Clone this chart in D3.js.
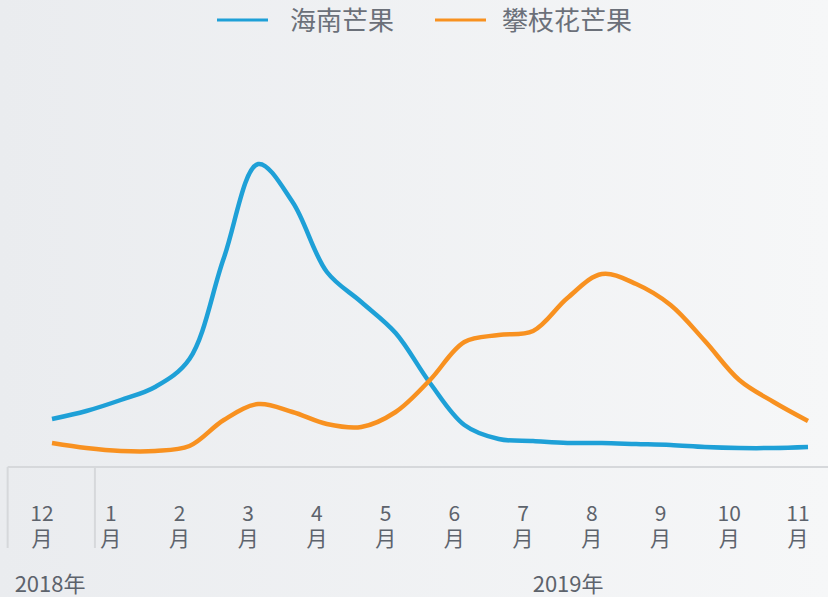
<!DOCTYPE html>
<html>
<head>
<meta charset="utf-8">
<script src="https://cdn.jsdelivr.net/npm/d3@7"></script>
<style>
  html, body { margin: 0; padding: 0; }
  body { width: 828px; height: 597px; overflow: hidden; }
  text { font-family: "Noto Sans CJK SC", "Noto Sans", sans-serif; }
</style>
</head>
<body>
<div id="chart"></div>
<script>
"use strict"

// month labels (one tick per month, Dec 2018 .. Nov 2019)
let months = ["12", "1", "2", "3", "4", "5", "6", "7", "8", "9", "10", "11"];
let years = ["2018年", "2019年"];

// half-month samples (index units)
let hainan = [48, 56, 67, 80, 108, 209, 303, 265, 195, 165, 134, 84, 42, 28, 26, 24, 24, 23, 22, 20, 19, 19, 20];
let panzhihua = [24, 19, 16, 16, 21, 47, 63, 55, 43, 40, 55, 87, 125, 132, 136, 169, 193, 183, 162, 126, 87, 65, 46];

let seriesNames = ["海南芒果", "攀枝花芒果"];
let colors = ["#1ea0d7", "#f89120"];

let width = 828,
    height = 597;

let svg = d3.select("#chart")
    .append("svg")
    .attr("width", width)
    .attr("height", height);

// background gradient
let grad = svg.append("defs").append("linearGradient")
    .attr("id", "bg")
    .attr("x1", "0%").attr("x2", "100%")
    .attr("y1", "0%").attr("y2", "0%");
grad.append("stop").attr("offset", "0%").attr("stop-color", "#eaecef");
grad.append("stop").attr("offset", "100%").attr("stop-color", "#f6f7f8");
svg.append("rect")
    .attr("width", width)
    .attr("height", height)
    .attr("fill", "url(#bg)");

// scales
let x = d3.scaleLinear()
    .domain([0, months.length - 1])
    .range([42, 798]);

let y = d3.scaleLinear()
    .domain([0, 320])
    .range([467, 147]);

// data lines sit a little right of the month labels
let dataShift = 10;

let line = d3.line()
    .x(function (d, i) { return x(i / 2) + dataShift; })
    .y(function (d) { return y(d); })
    .curve(d3.curveCatmullRom.alpha(0.5));

[hainan, panzhihua].forEach(function (series, k) {
    svg.append("path")
        .datum(series)
        .attr("d", line)
        .attr("fill", "none")
        .attr("stroke", colors[k])
        .attr("stroke-width", 4.5)
        .attr("stroke-linecap", "butt")
        .attr("stroke-linejoin", "round");
});

// axis frame
let axisColor = "#d6d8db";
svg.append("line")
    .attr("x1", x(-0.5)).attr("x2", width)
    .attr("y1", y(0)).attr("y2", y(0))
    .attr("stroke", axisColor)
    .attr("stroke-width", 2);

// left edge and the year boundary
[-0.5, 0.77].forEach(function (p) {
    svg.append("line")
        .attr("x1", x(p)).attr("x2", x(p))
        .attr("y1", y(0)).attr("y2", 548)
        .attr("stroke", axisColor)
        .attr("stroke-width", 2);
});

// month labels: number on top, 月 below
svg.selectAll(".month-num")
    .data(months)
    .enter()
    .append("text")
    .attr("class", "month-num")
    .attr("x", function (d, i) { return x(i); })
    .attr("y", 521)
    .attr("text-anchor", "middle")
    .attr("fill", "#5d636c")
    .style("font-size", "21px")
    .text(function (d) { return d; });

svg.selectAll(".month-unit")
    .data(months)
    .enter()
    .append("text")
    .attr("class", "month-unit")
    .attr("x", function (d, i) { return x(i); })
    .attr("y", 546)
    .attr("text-anchor", "middle")
    .attr("fill", "#5d636c")
    .style("font-size", "21px")
    .text("月");

// year labels
svg.selectAll(".year")
    .data(years)
    .enter()
    .append("text")
    .attr("class", "year")
    .attr("x", function (d, i) { return i == 0 ? x(-0.5) + 7 : x(7.14); })
    .attr("y", 592)
    .attr("fill", "#5d636c")
    .style("font-size", "22px")
    .text(function (d) { return d; });

// legend
let legendX = [217, 435];
seriesNames.forEach(function (name, k) {
    let g = svg.append("g")
        .attr("transform", "translate(" + legendX[k] + ",20)");
    g.append("line")
        .attr("x1", 0).attr("x2", 51)
        .attr("y1", 0).attr("y2", 0)
        .attr("stroke", colors[k])
        .attr("stroke-width", 3);
    g.append("text")
        .attr("x", k == 0 ? 73 : 67)
        .attr("y", 10)
        .attr("fill", "#6b7079")
        .style("font-size", "26px")
        .text(name);
});
</script>
</body>
</html>
